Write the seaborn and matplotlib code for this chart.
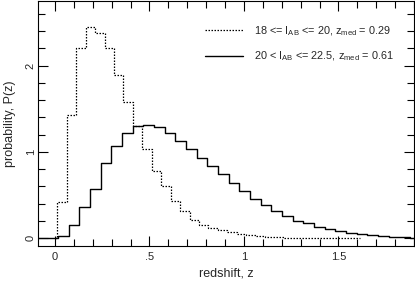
import numpy as np
import pandas as pd
import matplotlib
matplotlib.use("Agg")
import matplotlib.pyplot as plt
import seaborn as sns
from matplotlib.ticker import MultipleLocator, FixedLocator

# ---- data ----
bright_label = r"18 <= I$_{\mathrm{AB}}$ <= 20, z$_{\mathrm{med}}$ = 0.29"
faint_label = r"20 < I$_{\mathrm{AB}}$ <= 22.5, z$_{\mathrm{med}}$ = 0.61"

bright_bin_start = 0.012
bright_bin_width = 0.05
bright_values = [0.425, 1.43, 2.21, 2.45, 2.375, 2.20, 1.89, 1.58, 1.30, 1.03,
                 0.78, 0.60, 0.43, 0.31, 0.215, 0.155, 0.12, 0.09, 0.07, 0.045,
                 0.035, 0.025, 0.015, 0.01, 0.008, 0.005, 0.005, 0.005, 0.005,
                 0.005, 0.005, 0.005]

faint_bin_start = 0.015
faint_bin_width = 0.0565
faint_values = [0.03, 0.15, 0.36, 0.57, 0.87, 1.07, 1.22, 1.305, 1.315, 1.295,
                1.22, 1.13, 1.035, 0.93, 0.84, 0.74, 0.645, 0.545, 0.45, 0.385,
                0.31, 0.26, 0.20, 0.175, 0.135, 0.11, 0.08, 0.055, 0.045, 0.038,
                0.028, 0.02, 0.012, 0.008]

x_ticks = [0, 0.5, 1, 1.5]
x_ticklabels = ["0", ".5", "1", "1.5"]
y_ticks = [0, 1, 2]
y_ticklabels = ["0", "1", "2"]
xlim = (-0.09, 1.9)
ylim = (-0.09, 2.75)


def step_frame(start, width, values, x0):
    edges = start + width * np.arange(len(values) + 1)
    xs = np.concatenate([[x0], edges])
    ys = np.concatenate([[0.0], values, [values[-1]]])
    return pd.DataFrame({"z": xs, "p": ys})


sns.set_theme(style="white")
plt.rcParams["font.family"] = ["Liberation Sans", "DejaVu Sans"]
plt.rcParams["mathtext.fontset"] = "custom"
plt.rcParams["mathtext.rm"] = "Liberation Sans"
plt.rcParams["mathtext.it"] = "Liberation Sans:italic"

fig = plt.figure(figsize=(4.15, 2.82), dpi=100)
ax = fig.add_axes([38 / 415, 1 - 246 / 282, 376 / 415, 245 / 282])

df_b = step_frame(bright_bin_start, bright_bin_width, bright_values, 0.0)
df_f = step_frame(faint_bin_start, faint_bin_width, faint_values, xlim[0])

sns.lineplot(data=df_b, x="z", y="p", ax=ax, drawstyle="steps-post",
             color="black", lw=0.9, linestyle=(0, (1.2, 1.2)), label=bright_label,
             estimator=None, sort=False)
sns.lineplot(data=df_f, x="z", y="p", ax=ax, drawstyle="steps-post",
             color="black", lw=1.0, label=faint_label,
             estimator=None, sort=False)

ax.set_xlim(*xlim)
ax.set_ylim(*ylim)
ax.xaxis.set_major_locator(FixedLocator(x_ticks))
ax.set_xticklabels(x_ticklabels)
ax.xaxis.set_minor_locator(MultipleLocator(0.1))
ax.yaxis.set_major_locator(FixedLocator(y_ticks))
ax.set_yticklabels(y_ticklabels, rotation=90, va="center")
ax.yaxis.set_minor_locator(MultipleLocator(0.2))

ax.tick_params(which="both", direction="in", top=True, right=True,
               bottom=True, left=True, color="black", width=0.8,
               labelsize=8)
ax.tick_params(which="major", length=7.5)
ax.tick_params(which="minor", length=4.8)
ax.tick_params(axis="x", which="major", pad=4)
ax.tick_params(axis="y", which="major", pad=1.5)
for s in ax.spines.values():
    s.set_color("black")
    s.set_linewidth(0.8)

ax.set_xlabel("redshift, z", fontsize=9, labelpad=4)
ax.set_ylabel("probability, P(z)", fontsize=9, labelpad=7)

ax.legend(loc="upper left", bbox_to_anchor=(0.444, 0.905), frameon=False,
          fontsize=7.8, handlelength=3.5, handletextpad=1.0,
          labelspacing=1.1, borderpad=0, borderaxespad=0)

fig.savefig("out.png", dpi=100)
